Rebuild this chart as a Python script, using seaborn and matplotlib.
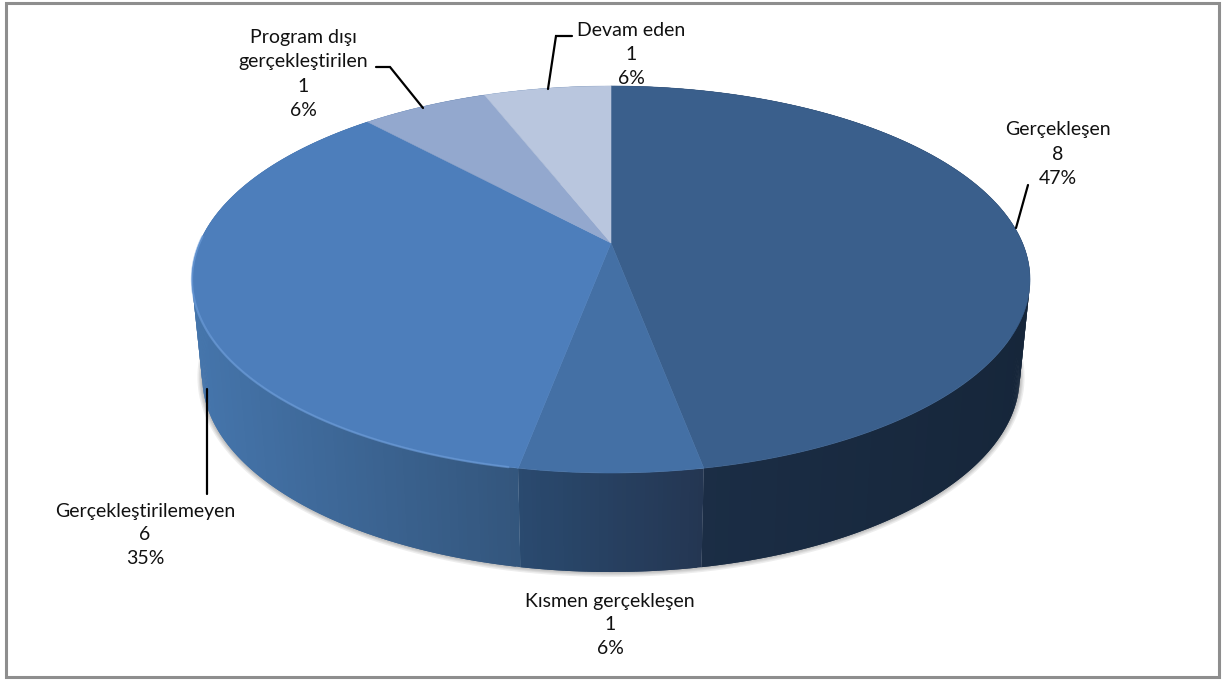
import numpy as np
import matplotlib
matplotlib.use("Agg")
import matplotlib.pyplot as plt
from matplotlib.patches import Rectangle
import seaborn as sns

categories = ["Gerçekleşen", "Kısmen gerçekleşen", "Gerçekleştirilemeyen",
              "Program dışı\ngerçekleştirilen", "Devam eden"]
values = [8, 1, 6, 1, 1]
top_colors = ["#3a5f8c", "#4470a5", "#4d7ebb", "#93a8ce", "#b9c6de"]
side_left = ["#1c2f48", "#2a4a6f", "#4575ab", "#4575ab", "#4575ab"]
side_right = ["#16263a", "#243652", "#33557c", "#33557c", "#33557c"]

sns.set_theme(style="white")
plt.rcParams["font.family"] = ["Lato", "DejaVu Sans"]

fig, ax = plt.subplots(figsize=(12.23, 6.8), dpi=100)
fig.subplots_adjust(0, 0, 1, 1)
ax.set_xlim(0, 1223)
ax.set_ylim(680, 0)
ax.axis("off")
ax.add_patch(Rectangle((6, 3), 1213, 674, fc="white", ec="#8e8e8e", lw=2.2, zorder=0))

# perspective projection of a unit circle (angle clockwise from 12 o'clock)
CX, APEX_Y, PX, PA, PB, PC = 611.0, 243.0, 411.5, -140.8, 243.0, 0.1886
def top_xy(t):
    u, v = np.sin(t), np.cos(t)
    d = 1 + PC * v
    return CX + PX * u / d, (PA * v + PB) / d
def bottom_xy(t):
    x, y = top_xy(t)
    return CX + (x - CX) * 408.7 / 419.0, 377 + (y - 279.5) * 195 / 193.5

edges = np.radians(np.concatenate([[0], np.cumsum(values)]) / sum(values) * 360)

# soft shadow around the rim
tt = np.radians(np.linspace(84, 276, 300))
bx, by = bottom_xy(tt)
for lw in [7, 5, 3.5, 2]:
    ax.plot(bx, by, color="#555555", alpha=0.10, lw=lw, zorder=1, solid_capstyle="round")

# rim, as overlapping strips shaded by horizontal position
for i in range(len(values)):
    ts = np.linspace(edges[i], edges[i + 1], int(values[i] * 40) + 2)
    x0, _ = top_xy(ts)
    lo, hi = x0.min(), x0.max()
    pal = sns.blend_palette([side_left[i], side_right[i]], 64)
    for j in range(len(ts) - 1):
        sub = ts[j:j + 3]
        xt, yt = top_xy(sub)
        xb, yb = bottom_xy(sub)
        f = (xt[:2].mean() - lo) / max(hi - lo, 1)
        ax.fill(np.r_[xt, xb[::-1]], np.r_[yt, yb[::-1]],
                color=pal[int(np.clip(f, 0, 1) * 63)], lw=0, zorder=2)

# top face
for i in range(len(values)):
    ts = np.linspace(edges[i], edges[i + 1], 200)
    x, y = top_xy(ts)
    ax.fill(np.r_[CX, x], np.r_[APEX_Y, y], color=top_colors[i], lw=0.4, zorder=3)

# light bevel along the front-left edge
ts = np.linspace(edges[2] + 0.02, np.radians(272), 200)
x, y = top_xy(ts)
ax.plot(x, y, color="#6f9fdc", lw=1.6, alpha=0.6, zorder=4)

# data labels
pct = [round(v / sum(values) * 100) for v in values]
label_pos = [(1058, 154), (610, 625), (145, 535), (303, 74), (631, 55)]
for name, v, p, (lx, ly) in zip(categories, values, pct, label_pos):
    ax.text(lx, ly, f"{name}\n{v}\n{p}%", ha="center", va="center", fontsize=14,
            color="#111111", linespacing=1.5, zorder=6)

# leader lines
leaders = [([1028, 1016], [185, 228]),
           ([572, 556, 548], [36, 36, 89]),
           ([376, 390, 423], [67, 67, 108]),
           ([207, 207], [389, 494])]
for lxs, lys in leaders:
    ax.plot(lxs, lys, color="black", lw=1.6, zorder=5, solid_joinstyle="miter")

fig.savefig("out.png", dpi=100)
